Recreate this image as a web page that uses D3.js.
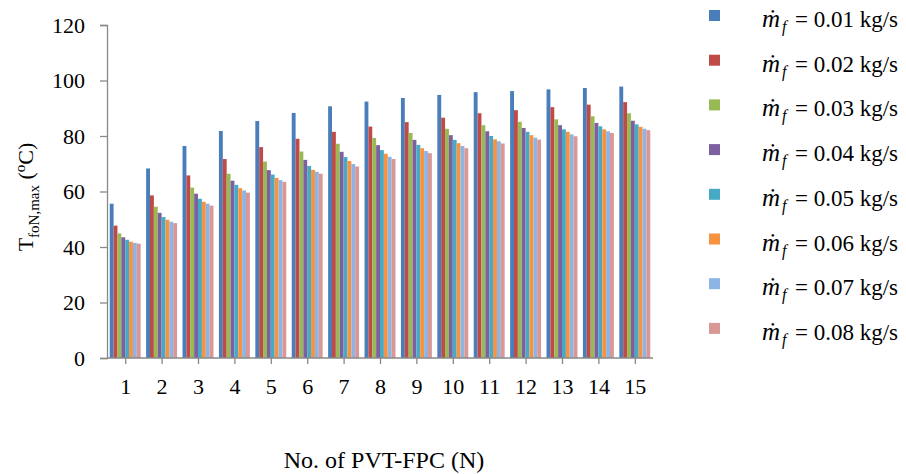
<!DOCTYPE html>
<html>
<head>
<meta charset="utf-8">
<script src="https://cdn.jsdelivr.net/npm/d3@7"></script>
<style>
  body { margin: 0; background: #fff; }
</style>
</head>
<body>
<div class="chart"></div>
<script>
// categories: number of collectors
const collectors = ['1','2','3','4','5','6','7','8','9','10','11','12','13','14','15']

// mass flow rates (legend)
const flowRates = ['0.01','0.02','0.03','0.04','0.05','0.06','0.07','0.08']

// T_foN,max per flow rate, one value per N
const s001 = [55.6, 68.3, 76.4, 81.8, 85.4, 88.3, 90.7, 92.4, 93.7, 94.8, 95.8, 96.2, 96.8, 97.3, 97.8]
const s002 = [47.7, 58.6, 65.8, 71.7, 76.0, 79.0, 81.5, 83.4, 85.0, 86.6, 88.2, 89.3, 90.4, 91.3, 92.2]
const s003 = [44.9, 54.5, 61.4, 66.4, 70.8, 74.4, 77.2, 79.3, 81.1, 82.6, 83.9, 85.1, 86.0, 87.1, 88.2]
const s004 = [43.5, 52.3, 59.2, 63.9, 67.7, 71.4, 74.3, 76.7, 78.6, 80.3, 81.7, 82.9, 83.9, 84.7, 85.5]
const s005 = [42.6, 50.8, 57.4, 62.4, 66.1, 69.2, 72.4, 74.9, 76.8, 78.6, 80.0, 81.5, 82.4, 83.5, 84.2]
const s006 = [41.9, 49.8, 56.3, 61.2, 64.9, 67.8, 71.0, 73.6, 75.6, 77.4, 78.8, 80.3, 81.5, 82.4, 83.3]
const s007 = [41.5, 49.1, 55.6, 60.4, 64.1, 67.1, 69.9, 72.5, 74.6, 76.4, 78.1, 79.4, 80.6, 81.7, 82.6]
const s008 = [41.2, 48.6, 54.9, 59.6, 63.5, 66.4, 69.0, 71.7, 73.8, 75.6, 77.3, 78.7, 79.9, 81.1, 82.1]
const series = [s001, s002, s003, s004, s005, s006, s007, s008]

const yTicks = [0, 20, 40, 60, 80, 100, 120]

const colors = ['#4a7ebb', '#be4b48', '#98b954', '#7d60a0', '#46aac5', '#f69240', '#8eb4e3', '#d99795']

const serif = '"Liberation Serif", "Times New Roman", serif'

const width = 906
const height = 474
const margin = { top: 25, right: 253, bottom: 116, left: 107 }
const innerWidth = width - margin.left - margin.right
const innerHeight = height - margin.top - margin.bottom

const svg = d3.select('.chart')
  .append('svg')
  .attr('width', width)
  .attr('height', height)
  .style('font-family', serif)

const g = svg.append('g')
  .attr('transform', `translate(${margin.left},${margin.top})`)

const x0 = d3.scaleBand()
  .domain(collectors)
  .range([0, innerWidth])
  .paddingInner(0.15)
  .paddingOuter(0.075)

const x1 = d3.scaleBand()
  .domain(flowRates)
  .range([0, x0.bandwidth()])

const y = d3.scaleLinear()
  .domain([0, 120])
  .range([innerHeight, 0])

const color = d3.scaleOrdinal()
  .domain(flowRates)
  .range(colors)

// bars
const groups = g.selectAll('.group')
  .data(collectors)
  .enter()
  .append('g')
  .attr('class', 'group')
  .attr('transform', d => `translate(${x0(d)},0)`)

groups.selectAll('rect')
  .data((d, i) => flowRates.map((f, k) => ({ f: f, v: series[k][i] })))
  .enter()
  .append('rect')
  .attr('x', d => x1(d.f))
  .attr('y', d => y(d.v))
  .attr('width', x1.bandwidth())
  .attr('height', d => innerHeight - y(d.v))
  .attr('fill', d => color(d.f))

// axes
const axisColor = '#888'

const yAxis = g.append('g')
  .call(d3.axisLeft(y).tickValues(yTicks).tickSize(7).tickPadding(15))
  .attr('font-family', null)
  .attr('font-size', null)
yAxis.select('.domain').attr('stroke', axisColor).attr('stroke-width', 1.3)
yAxis.selectAll('line').attr('stroke', axisColor).attr('stroke-width', 1.3)
yAxis.selectAll('text')
  .style('font-size', '22px')
  .style('font-family', serif)
  .attr('fill', '#000')

// x ticks sit at the band centers
const xCenter = d3.scalePoint()
  .domain(collectors)
  .range([x0(collectors[0]) + x0.bandwidth() / 2, x0(collectors[collectors.length - 1]) + x0.bandwidth() / 2])

const xAxis = g.append('g')
  .attr('transform', `translate(0,${innerHeight})`)
  .call(d3.axisBottom(xCenter).tickSize(6).tickPadding(14).tickSizeOuter(0))
  .attr('font-family', null)
  .attr('font-size', null)
xAxis.select('.domain').attr('d', `M0,0H${innerWidth}`).attr('stroke', axisColor).attr('stroke-width', 1.3)
xAxis.selectAll('line').attr('stroke', axisColor).attr('stroke-width', 1.3)
xAxis.selectAll('text')
  .style('font-size', '22px')
  .style('font-family', serif)
  .attr('fill', '#000')

// axis titles
const yTitle = svg.append('text')
  .attr('transform', 'translate(33,197) rotate(-90)')
  .attr('text-anchor', 'middle')
  .style('font-size', '22px')
yTitle.append('tspan').text('T')
yTitle.append('tspan').text('foN,max').style('font-size', '15px').attr('dy', 6)
yTitle.append('tspan').text(' (').attr('dy', -6)
yTitle.append('tspan').text('o').style('font-size', '15px').attr('dy', -8)
yTitle.append('tspan').text('C)').attr('dy', 8)

svg.append('text')
  .attr('x', 384)
  .attr('y', 468)
  .attr('text-anchor', 'middle')
  .style('font-size', '24px')
  .text('No. of PVT-FPC (N)')

// legend
const legend = svg.append('g')
  .attr('transform', 'translate(709,10)')

const items = legend.selectAll('.item')
  .data(flowRates)
  .enter()
  .append('g')
  .attr('class', 'item')
  .attr('transform', (d, i) => `translate(0,${i * 44.7})`)

items.append('rect')
  .attr('width', 11)
  .attr('height', 11)
  .attr('fill', d => color(d))

const label = items.append('text')
  .attr('y', 17)
  .style('font-size', '23px')
label.append('tspan').attr('x', 53).text('\u1E41').style('font-style', 'italic').style('font-size', '25px')
label.append('tspan').attr('x', 73).text('f').style('font-style', 'italic').style('font-size', '16px').attr('dy', 5)
label.append('tspan').attr('x', 86).text(d => `= ${d} kg/s`).attr('dy', -5)
</script>
</body>
</html>
